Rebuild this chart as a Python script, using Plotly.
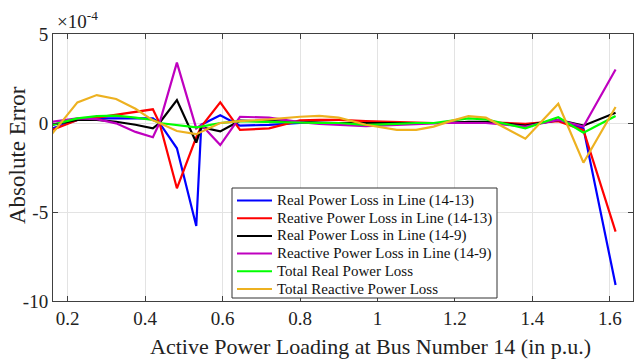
import plotly.graph_objects as go

# Active power loading at bus 14 (p.u.)
loading = [0.16, 0.225, 0.275, 0.325, 0.375, 0.42, 0.437, 0.482, 0.532, 0.545,
           0.594, 0.645, 0.72, 0.80, 0.85, 0.90, 0.97, 1.05, 1.10, 1.145,
           1.18, 1.235, 1.28, 1.382, 1.467, 1.532, 1.615]

# Absolute errors, in units of 1e-4
real_loss_14_13 = [-0.3, 0.17, 0.26, 0.26, 0.26, 0.26, 0.0, -1.42, -5.79, -0.1,
                   0.43, -0.15, -0.1, 0.0, 0.0, 0.0, 0.0, 0.0, 0.0, 0.0,
                   0.0, 0.05, 0.05, -0.1, 0.15, -0.3, -9.1]
reactive_loss_14_13 = [-0.39, 0.17, 0.3, 0.45, 0.6, 0.77, 0.0, -3.67, -0.8, -0.2,
                       1.16, -0.39, -0.3, 0.15, 0.17, 0.17, 0.1, 0.05, 0.0, 0.0,
                       0.0, 0.05, 0.05, -0.05, 0.1, -0.4, -6.1]
real_loss_14_9 = [-0.1, 0.17, 0.17, 0.07, -0.1, -0.3, 0.0, 1.29, -1.1, -0.24,
                  -0.47, 0.13, 0.1, 0.05, 0.0, 0.0, 0.0, 0.0, 0.0, 0.0,
                  0.0, 0.07, 0.07, -0.15, 0.17, -0.15, 0.58]
reactive_loss_14_9 = [0.07, 0.26, 0.22, -0.02, -0.5, -0.8, 0.0, 3.39, -0.3, -0.1,
                      -1.24, 0.35, 0.3, 0.05, -0.05, -0.1, -0.17, -0.1, -0.05, 0.0,
                      0.0, 0.0, 0.0, -0.2, 0.17, -0.2, 3.01]
total_real_loss = [-0.1, 0.26, 0.39, 0.41, 0.3, 0.17, 0.0, -0.1, -0.24, -0.2,
                   0.0, 0.1, 0.05, 0.0, 0.0, 0.0, -0.1, -0.05, 0.0, 0.0,
                   0.1, 0.26, 0.2, -0.3, 0.32, -0.55, 0.39]
total_reactive_loss = [-0.6, 1.16, 1.57, 1.35, 0.8, 0.15, 0.0, -0.45, -0.63, -0.5,
                       0.0, 0.1, 0.2, 0.35, 0.4, 0.3, -0.1, -0.39, -0.39, -0.2,
                       0.05, 0.39, 0.3, -0.88, 1.08, -2.23, 0.9]

series_names = ["Real Power Loss in Line (14-13)",
                "Reative Power Loss in Line (14-13)",
                "Real Power Loss in Line (14-9)",
                "Reactive Power Loss in Line (14-9)",
                "Total Real Power Loss",
                "Total Reactive Power Loss"]
series_values = [real_loss_14_13, reactive_loss_14_13, real_loss_14_9,
                 reactive_loss_14_9, total_real_loss, total_reactive_loss]
series_colors = ["#0000FF", "#FF0000", "#000000", "#BF00BF", "#00FF00", "#EDB120"]

x_ticks = [0.2, 0.4, 0.6, 0.8, 1.0, 1.2, 1.4, 1.6]
x_tick_labels = ["0.2", "0.4", "0.6", "0.8", "1", "1.2", "1.4", "1.6"]
y_ticks = [5, 0, -5, -10]
y_tick_labels = ["5", "0", "-5", "-10"]

font_family = "Liberation Serif, Times New Roman, serif"

# Figure and plot-area geometry (pixels)
W, H = 635, 359
L, R, T, B = 53, 2, 34, 58
plot_w, plot_h = W - L - R, H - T - B


def fx(px):
    """Pixel column -> paper x."""
    return (px - L) / plot_w


def fy(py):
    """Pixel row -> paper y."""
    return (H - B - py) / plot_h


fig = go.Figure()
for name, vals, color in zip(series_names, series_values, series_colors):
    fig.add_trace(go.Scatter(x=loading, y=vals, mode="lines", name=name,
                             line=dict(color=color, width=2.2), showlegend=False))

axis_common = dict(showline=True, linecolor="#404040", linewidth=1,
                   mirror="ticks", ticks="inside", ticklen=5, tickcolor="#404040",
                   showgrid=True, gridcolor="#E3E3E3", gridwidth=1,
                   zeroline=False, tickfont=dict(family=font_family, size=19, color="#222"))

fig.update_layout(
    width=W, height=H,
    margin=dict(l=L, r=R, t=T, b=B, autoexpand=False),
    paper_bgcolor="white", plot_bgcolor="white",
    font=dict(family=font_family, color="#222"),
    xaxis=dict(range=[0.162, 1.66], tickvals=x_ticks, ticktext=x_tick_labels,
               **axis_common),
    yaxis=dict(range=[-10, 5], tickvals=y_ticks, ticktext=y_tick_labels,
               **axis_common),
    showlegend=False,
)

# axis titles
fig.add_annotation(x=fx(370), y=fy(346), xref="paper", yref="paper",
                   xanchor="center", yanchor="middle", showarrow=False,
                   text="Active Power Loading at Bus Number 14 (in p.u.)",
                   font=dict(family=font_family, size=22, color="#222"))
fig.add_annotation(x=fx(17), y=fy(155), xref="paper", yref="paper",
                   xanchor="center", yanchor="middle", showarrow=False, textangle=-90,
                   text="Absolute Error",
                   font=dict(family=font_family, size=23, color="#222"))

# exponent label
fig.add_annotation(x=0, y=1, xref="paper", yref="paper", xanchor="left", yanchor="bottom",
                   text="×10<sup>-4</sup>", showarrow=False, yshift=0, xshift=2,
                   font=dict(family=font_family, size=19, color="#222"))

# legend box with line samples and labels
box_left, box_right, box_top, box_bottom = 232, 497, 188, 298
fig.add_shape(type="rect", xref="paper", yref="paper",
              x0=fx(box_left), x1=fx(box_right), y0=fy(box_bottom), y1=fy(box_top),
              line=dict(color="#333", width=1), fillcolor="white", layer="above")
row_y0, row_step = 200.5, 17.7
for i, (name, color) in enumerate(zip(series_names, series_colors)):
    ry = row_y0 + i * row_step
    fig.add_shape(type="line", xref="paper", yref="paper",
                  x0=fx(237), x1=fx(272), y0=fy(ry), y1=fy(ry),
                  line=dict(color=color, width=2), layer="above")
    fig.add_annotation(x=fx(275), y=fy(ry), xref="paper", yref="paper",
                       xanchor="left", yanchor="middle", showarrow=False, text=name,
                       font=dict(family=font_family, size=15, color="#111"))

fig.write_html("out.html")
